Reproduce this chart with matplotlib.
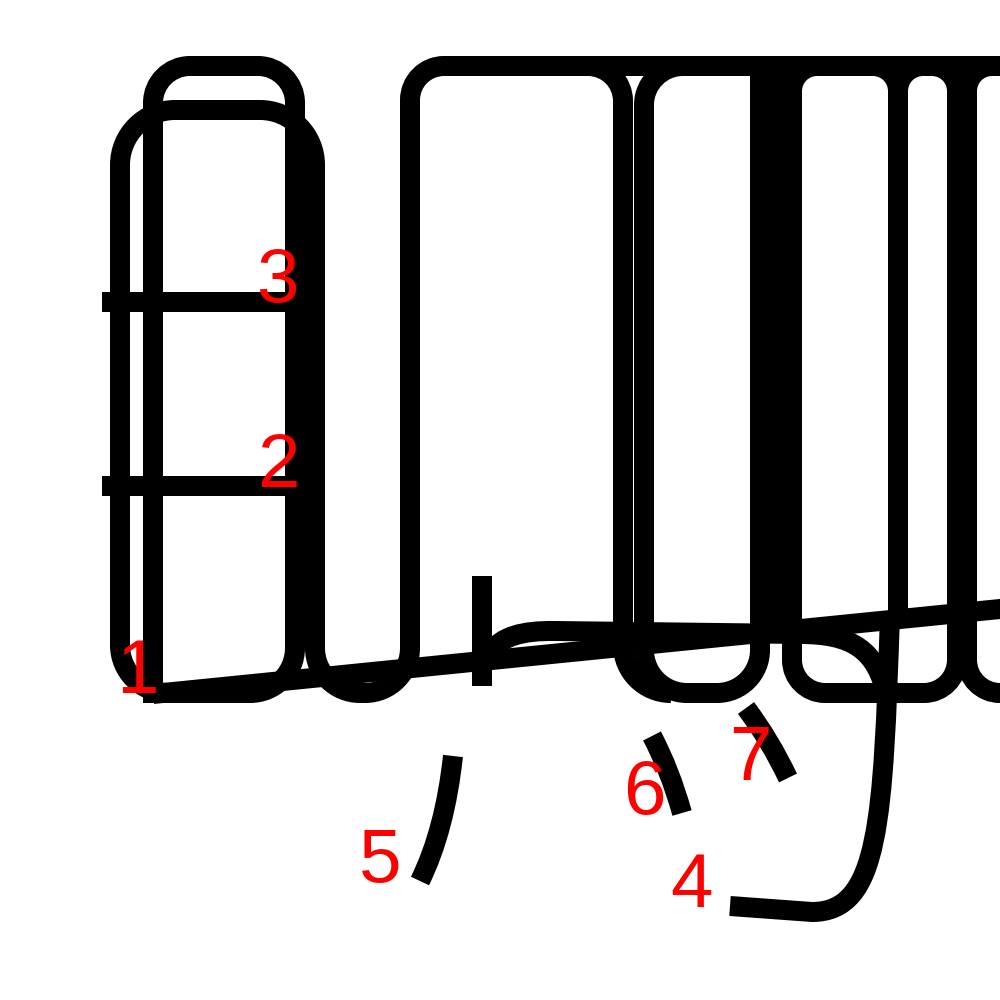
import matplotlib
matplotlib.use("Agg")
import matplotlib.pyplot as plt
from matplotlib.path import Path
from matplotlib.patches import PathPatch

# ---- stroke outlines (pixel coordinates of a 1000x1000 canvas, y downwards) ----
# "R" = rounded corner (corner point, end point); "Q" = quadratic curve; "C" = cubic curve
stroke_A = [("M", (153, 703)), ("L", (153, 103)), ("R", (153, 66), (190, 66)),
            ("L", (258, 66)), ("R", (295, 66), (295, 103)), ("L", (295, 648)),
            ("R", (295, 693), (250, 693)), ("L", (150, 693))]
stroke_B = [("M", (168, 693)), ("R", (120, 693), (120, 645)), ("L", (120, 165)),
            ("R", (120, 110), (175, 110)), ("L", (260, 110)), ("R", (315, 110), (315, 165)),
            ("L", (315, 648)), ("R", (315, 693), (360, 693)), ("L", (365, 693)),
            ("R", (410, 693), (410, 648)), ("L", (410, 100)), ("R", (410, 66), (444, 66)),
            ("L", (1010, 66))]
stroke_C_right = [("M", (588, 66)), ("R", (623, 66), (623, 101)), ("L", (623, 645)),
                  ("R", (623, 693), (671, 693))]
stroke_D = [("M", (683, 66)), ("R", (644, 66), (644, 105)), ("L", (644, 650)),
            ("R", (644, 693), (687, 693)), ("L", (717, 693)), ("R", (760, 693), (760, 650)),
            ("L", (760, 66))]
stroke_mid = [("M", (776, 70)), ("L", (776, 640))]
stroke_E = [("M", (817, 66)), ("R", (792, 66), (792, 91)), ("L", (792, 660)),
            ("R", (792, 693), (825, 693)), ("L", (924, 693)), ("R", (957, 693), (957, 660)),
            ("L", (957, 91)), ("R", (957, 66), (932, 66))]
stroke_E_right = [("M", (873, 66)), ("R", (898, 66), (898, 91)), ("L", (898, 620))]
stroke_F_top = [("M", (923, 66)), ("R", (898, 66), (898, 91))]
stroke_G = [("M", (992, 66)), ("R", (967, 66), (967, 91)), ("L", (967, 660)),
            ("R", (967, 693), (1000, 693)), ("L", (1020, 693))]
stroke_bar1 = [("M", (102, 302)), ("L", (292, 302))]
stroke_bar2 = [("M", (102, 486)), ("L", (292, 486))]
stroke_diag = [("M", (153, 694)), ("L", (1010, 608))]
stroke_tick = [("M", (482, 576)), ("L", (482, 686))]
stroke_hook = [("M", (492, 651)), ("Q", (505, 630), (555, 631)), ("L", (800, 634)),
               ("C", (850, 634), (878, 648), (887, 700))]
stroke_4 = [("M", (890, 615)), ("C", (883, 820), (880, 912), (812, 912)), ("L", (730, 906))]
stroke_5 = [("M", (453, 756)), ("Q", (445, 830), (420, 881))]
stroke_6 = [("M", (652, 736)), ("Q", (670, 770), (682, 813))]
stroke_7 = [("M", (746, 708)), ("Q", (770, 740), (788, 778))]

strokes = [stroke_bar1, stroke_bar2, stroke_A, stroke_B, stroke_C_right, stroke_D,
           stroke_mid, stroke_E, stroke_E_right, stroke_F_top, stroke_G, stroke_diag,
           stroke_tick, stroke_hook, stroke_4, stroke_5, stroke_6, stroke_7]

# ---- stroke-order numbers ----
label_texts = ["1", "2", "3", "4", "5", "6", "7"]
label_x = [137, 278, 277, 692, 380, 644, 750]
label_y = [693, 487, 302, 907, 882, 814, 780]

KAPPA = 0.5523


def build_path(cmds):
    verts, codes = [], []
    for c in cmds:
        if c[0] == "M":
            verts.append(c[1]); codes.append(Path.MOVETO)
        elif c[0] == "L":
            verts.append(c[1]); codes.append(Path.LINETO)
        elif c[0] == "Q":
            verts += [c[1], c[2]]; codes += [Path.CURVE3, Path.CURVE3]
        elif c[0] == "C":
            verts += [c[1], c[2], c[3]]; codes += [Path.CURVE4] * 3
        elif c[0] == "R":
            p0 = verts[-1]
            k, p2 = c[1], c[2]
            c1 = (p0[0] + KAPPA * (k[0] - p0[0]), p0[1] + KAPPA * (k[1] - p0[1]))
            c2 = (p2[0] + KAPPA * (k[0] - p2[0]), p2[1] + KAPPA * (k[1] - p2[1]))
            verts += [c1, c2, p2]; codes += [Path.CURVE4] * 3
    return Path(verts, codes)


fig = plt.figure(figsize=(10, 10), dpi=100)
ax = fig.add_axes([0, 0, 1, 1])
ax.set_xlim(0, 1000)
ax.set_ylim(1000, 0)
ax.axis("off")

lw = 20 * 72 / 100  # 20 px
for s in strokes:
    ax.add_patch(PathPatch(build_path(s), fill=False, edgecolor="black", lw=lw,
                           capstyle="butt", joinstyle="round"))

for t, x, y in zip(label_texts, label_x, label_y):
    ax.text(x, y, t, color="#ff0000", fontsize=55, family="Liberation Sans",
            ha="center", va="baseline", zorder=5)

fig.savefig("out.png", dpi=100, facecolor="white")
